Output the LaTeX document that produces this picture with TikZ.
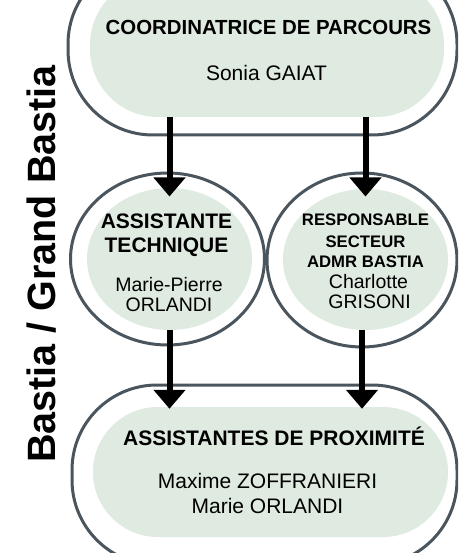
\documentclass[tikz,border=0pt]{standalone}
\usepackage{fontspec}
\setmainfont{Liberation Sans}
\usetikzlibrary{arrows.meta,shapes.geometric}
\definecolor{contour}{HTML}{4B555E}
\definecolor{fond}{HTML}{DFEAE0}
\begin{document}
\begin{tikzpicture}[x=1pt,y=-1pt,
    cadre/.style={
        draw=contour,
        line width=3pt,
        fill=white,
        inner sep=0pt},
    plein/.style={
        fill=fond,
        inner sep=0pt},
    titre/.style={
        font=\bfseries\fontsize{21}{21}\selectfont,
        anchor=base,
        inner sep=0pt},
    nom/.style={
        font=\fontsize{19.5}{19.5}\selectfont,
        anchor=base,
        inner sep=0pt},
    fleche/.style={
        line width=6pt,
        -{Triangle[width=31pt,length=19pt]}}]

    \clip (0,0) rectangle (458,553);

    \node[cadre, rectangle, rounded corners=85pt,
        minimum width=389pt, minimum height=176pt] (coord) at (262.5,47) {};
    \node[plein, rectangle, rounded corners=68pt,
        minimum width=354pt, minimum height=140pt] (coordfond) at (267,47) {};

    \node[cadre, ellipse, minimum width=194pt, minimum height=172pt] (assist) at (167.5,259) {};
    \node[plein, ellipse, minimum width=165pt, minimum height=142pt] (assistfond) at (169.5,259) {};

    \node[cadre, ellipse, minimum width=190pt, minimum height=174pt] (resp) at (362,260) {};
    \node[plein, ellipse, minimum width=165pt, minimum height=141pt] (respfond) at (365.5,259.5) {};

    \node[cadre, rectangle, rounded corners=85pt,
        minimum width=385pt, minimum height=180pt] (prox) at (264.5,475) {};
    \node[plein, rectangle, rounded corners=65pt,
        minimum width=355pt, minimum height=130pt] (proxfond) at (270.5,472) {};

    \node[titre, font=\bfseries\fontsize{20.4}{20.4}\selectfont] (coordtitre) at (268.5,35) {COORDINATRICE DE PARCOURS};
    \node[nom, font=\fontsize{21}{21}\selectfont] (coordnom) at (266.5,81) {Sonia GAIAT};

    \node[titre] (assisttitre1) at (166.5,228) {ASSISTANTE};
    \node[titre] (assisttitre2) at (166.5,252) {TECHNIQUE};
    \node[nom] (assistnom1) at (169,291) {Marie-Pierre};
    \node[nom] (assistnom2) at (169,311) {ORLANDI};

    \node[titre, font=\bfseries\fontsize{16.7}{16.7}\selectfont] (resptitre1) at (365.5,225) {RESPONSABLE};
    \node[titre, font=\bfseries\fontsize{16.7}{16.7}\selectfont] (resptitre2) at (365.5,247) {SECTEUR};
    \node[titre, font=\bfseries\fontsize{16.7}{16.7}\selectfont] (resptitre3) at (365.5,267) {ADMR BASTIA};
    \node[nom] (respnom1) at (368.5,288.5) {Charlotte};
    \node[nom] (respnom2) at (369.5,308) {GRISONI};

    \node[titre] (proxtitre) at (274,445) {ASSISTANTES DE PROXIMITÉ};
    \node[nom, font=\fontsize{21}{21}\selectfont] (proxnom1) at (267.5,488) {Maxime ZOFFRANIERI};
    \node[nom, font=\fontsize{21}{21}\selectfont] (proxnom2) at (267.5,513) {Marie ORLANDI};

    \node[titre, rotate=90, font=\bfseries\fontsize{39.5}{39.5}\selectfont]
        (zone) at (55,264) {Bastia / Grand Bastia};

    \draw[fleche] (coordfond.south -| assistfond) -- ([yshift=-25pt]assist.north -| assistfond);
    \draw[fleche] (coordfond.south -| respfond) -- ([yshift=-25pt]resp.north -| respfond);
    \draw[fleche] (assistfond.south) -- ([yshift=-2pt]proxfond.north -| assistfond);
    \draw[fleche] (respfond.south -| resp) -- ([yshift=-2pt]proxfond.north -| resp);
\end{tikzpicture}
\end{document}
